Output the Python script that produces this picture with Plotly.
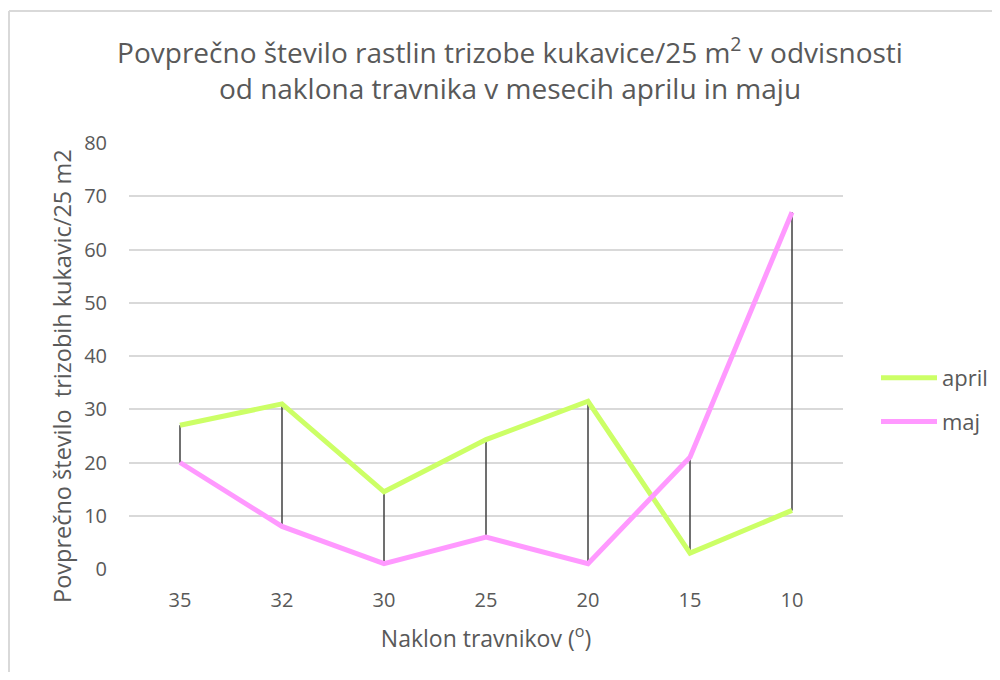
import plotly.graph_objects as go

categories = ["35", "32", "30", "25", "20", "15", "10"]
april = [27, 31, 14.5, 24.3, 31.5, 3, 11]
maj = [20, 8, 1, 6, 1, 21, 67]

GRAY = "#595959"
FONT = "Open Sans"

# high-low connector lines built from the data
hl_x, hl_y = [], []
for c, a, m in zip(categories, april, maj):
    hl_x += [c, c, None]
    hl_y += [a, m, None]

fig = go.Figure()
fig.add_trace(go.Scatter(x=hl_x, y=hl_y, mode="lines",
                         line=dict(color="#404040", width=1.5),
                         showlegend=False, hoverinfo="skip"))
fig.add_trace(go.Scatter(x=categories, y=april, name="april", mode="lines",
                         line=dict(color="#CCFF66", width=5), legendgroup="a"))
fig.add_trace(go.Scatter(x=categories, y=maj, name="maj", mode="lines",
                         line=dict(color="#FF99FF", width=5), legendgroup="m"))

# page has an 8px body margin; figure coordinates = page coordinates - 8
OFF = 8
W, H = 984, 664
L, T = 129 - OFF, 143 - OFF
R = W - (843 - OFF)
B = H - (569 - OFF)
pw, ph = W - L - R, H - T - B

def px2x(p):
    return (p - OFF - L) / pw

def py2y(p):
    return (H - B - (p - OFF)) / ph

fig.update_layout(
    width=W, height=H,
    margin=dict(l=L, r=R, t=T, b=B, autoexpand=False),
    paper_bgcolor="white", plot_bgcolor="white",
    font=dict(family=FONT, color=GRAY, size=18),
    title=dict(text="Povprečno število rastlin trizobe kukavice/25 m<sup>2</sup> v odvisnosti<br>od naklona travnika v mesecih aprilu in maju",
               x=(510 - OFF) / W, xanchor="center", y=1 - (63 - OFF) / H, yanchor="middle",
               font=dict(family=FONT, size=28, color=GRAY)),
    xaxis=dict(type="category", range=[-0.5, 6.5], showgrid=False, zeroline=False, showline=False,
               ticks="", tickfont=dict(size=20, color=GRAY), ticklabelstandoff=17,
               title=dict(text="Naklon travnikov (<sup>o</sup>)", font=dict(size=23, color=GRAY), standoff=18)),
    yaxis=dict(range=[0, 80], dtick=10, showgrid=True, gridcolor="#d9d9d9", gridwidth=1.5,
               zeroline=False, showline=False, ticks="", ticklabelstandoff=21,
               tickfont=dict(size=20, color=GRAY)),
    annotations=[dict(text="Povprečno število  trizobih kukavic/25 m2", textangle=-90,
                      xref="paper", yref="paper", x=px2x(62), y=py2y(376),
                      xanchor="center", yanchor="middle", showarrow=False,
                      font=dict(size=23.5, color=GRAY, family=FONT))],
    legend=dict(xref="container", yref="container",
                x=(876 - OFF) / W, y=1 - (400 - OFF) / H, xanchor="left", yanchor="middle",
                font=dict(size=22, color=GRAY), itemwidth=56, tracegroupgap=12,
                bgcolor="rgba(0,0,0,0)"),
    showlegend=True,
    shapes=[
        dict(type="line", xref="paper", yref="paper", x0=px2x(9), x1=px2x(9), y0=py2y(700), y1=py2y(11),
             line=dict(color="#d9d9d9", width=2)),
        dict(type="line", xref="paper", yref="paper", x0=px2x(9), x1=px2x(1010), y0=py2y(11), y1=py2y(11),
             line=dict(color="#d9d9d9", width=2)),
    ],
)

fig.write_html("out.html")
